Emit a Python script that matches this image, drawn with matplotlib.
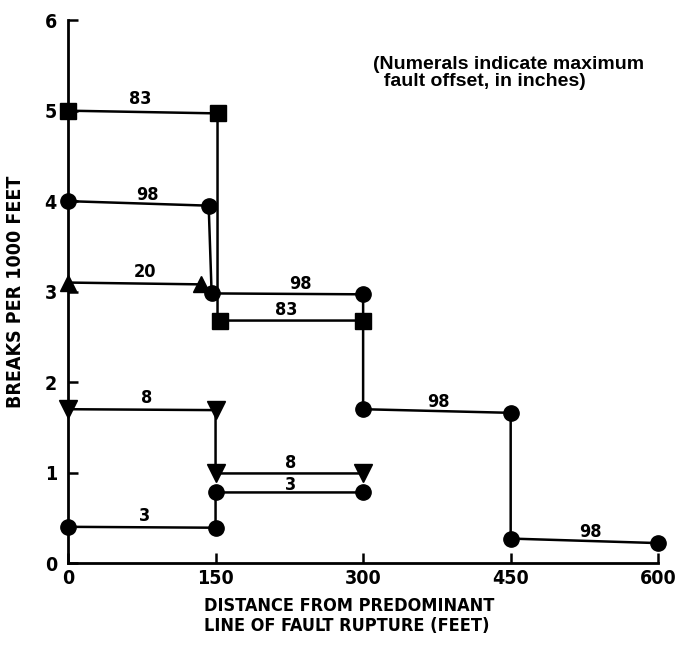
import matplotlib
matplotlib.use("Agg")
import matplotlib.pyplot as plt

# ── Data ───────────────────────────────────────────────────────────────────────
# each series: step path of distance (ft) vs breaks per 1000 ft
sq83_x = [0, 152, 152, 300]
sq83_y = [5.0, 4.97, 2.68, 2.68]
sq83_mx = [0, 152, 155, 300]

ci98_x = [0, 143, 146, 300, 300, 450, 450, 600]
ci98_y = [4.0, 3.95, 2.98, 2.97, 1.70, 1.66, 0.27, 0.22]

tu20_x = [0, 135]
tu20_y = [3.10, 3.08]

td8_x = [0, 150, 150, 300]
td8_y = [1.70, 1.69, 0.99, 0.99]

ci3_x = [0, 150, 150, 300]
ci3_y = [0.40, 0.39, 0.78, 0.78]

# offset numerals: (x, y, text)
lbl_x = [73, 81, 78, 236, 222, 376, 531, 80, 226, 226, 78]
lbl_y = [5.03, 3.97, 3.12, 2.99, 2.70, 1.68, 0.24, 1.72, 1.01, 0.76, 0.42]
lbl_t = ["83", "98", "20", "98", "83", "98", "98", "8", "8", "3", "3"]

xticks = [0, 150, 300, 450, 600]
yticks = [0, 1, 2, 3, 4, 5, 6]

# ── Figure ─────────────────────────────────────────────────────────────────────
fig = plt.figure(figsize=(6.8, 6.52), dpi=100)
ax = fig.add_axes([0.1, 0.1365, 0.868, 0.8325])

tick_font = dict(family="DejaVu Sans", fontstretch="condensed", weight="bold")
LW = 1.8
MS = 11

ax.plot(sq83_x, sq83_y, color="black", lw=LW, clip_on=False)
ax.plot(sq83_mx, sq83_y, "s", color="black", ms=MS, clip_on=False)
ax.plot(ci98_x, ci98_y, "o-", color="black", lw=LW, ms=MS, clip_on=False)
ax.plot(tu20_x, tu20_y, "^-", color="black", lw=LW, ms=MS + 1, clip_on=False)
ax.plot(td8_x, td8_y, "v-", color="black", lw=LW, ms=MS + 2, clip_on=False)
ax.plot(ci3_x, ci3_y, "o-", color="black", lw=LW, ms=MS, clip_on=False)

for x, y, t in zip(lbl_x, lbl_y, lbl_t):
    ax.text(x, y, t, ha="center", va="bottom", fontsize=13, **tick_font)

ax.text(310, 5.6, "(Numerals indicate maximum\n  fault offset, in inches)",
        fontsize=14, family="Liberation Sans", weight="bold",
        ha="left", va="top", linespacing=1.0)

ax.set_xlim(0, 600)
ax.set_ylim(0, 6)
ax.set_xticks(xticks)
ax.set_yticks(yticks)
ax.set_xticklabels([str(v) for v in xticks], fontsize=14, **tick_font)
ax.set_yticklabels([str(v) for v in yticks], fontsize=14, **tick_font)
ax.tick_params(direction="in", length=7, width=1.8)
ax.tick_params(axis="x", pad=4)
ax.tick_params(axis="y", pad=8)

for s in ["top", "right"]:
    ax.spines[s].set_visible(False)
for s in ["left", "bottom"]:
    ax.spines[s].set_linewidth(2)

ax.set_ylabel("BREAKS PER 1000 FEET", fontsize=14, labelpad=14, **tick_font)
fig.text(0.3, 0.055, "DISTANCE FROM PREDOMINANT\nLINE OF FAULT RUPTURE (FEET)",
         fontsize=13, ha="left", va="center", linespacing=1.15, **tick_font)

fig.savefig("out.png", dpi=100, facecolor="white")
